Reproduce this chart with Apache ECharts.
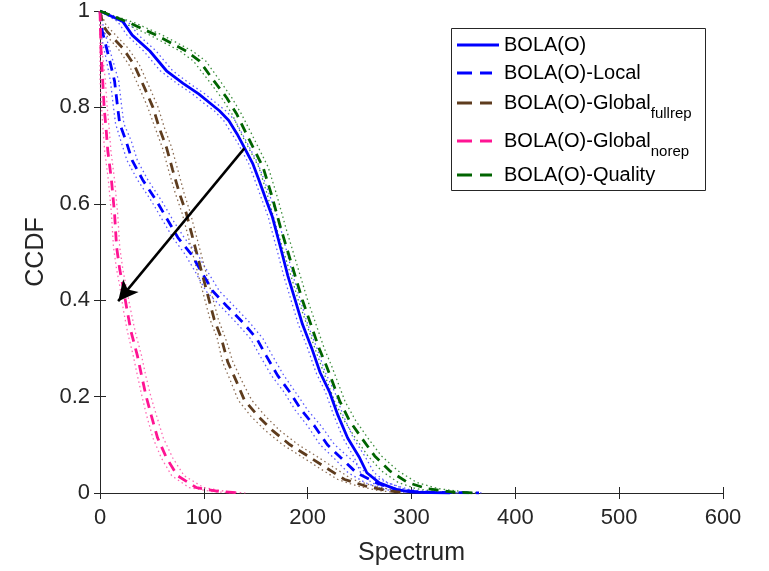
<!DOCTYPE html>
<html><head><meta charset="utf-8">
<script src="https://cdn.jsdelivr.net/npm/echarts@6/dist/echarts.min.js"></script>
<style>html,body{margin:0;padding:0;background:#fff}#c{width:769px;height:571px}</style>
</head><body><div id="c"></div>
<script>
// ---------- data ----------
const xMin = 0, xMax = 600, xStep = 100;
const yMin = 0, yMax = 1, yStep = 0.2;

const seriesNames = ['BOLA(O)', 'BOLA(O)-Local', 'BOLA(O)-Global_fullrep', 'BOLA(O)-Global_norep', 'BOLA(O)-Quality'];

// BOLA(O)
const bolaY  = [1, 0.978, 0.95, 0.917, 0.876, 0.85, 0.828, 0.807, 0.793, 0.773, 0.745, 0.725, 0.684, 0.65, 0.608, 0.573, 0.5, 0.45, 0.4, 0.35, 0.3, 0.25, 0.21, 0.162, 0.114, 0.073, 0.042, 0.021, 0.007, 0.002, 0];
const bolaX  = [0, 22, 31, 48, 64, 80, 95, 107, 115, 124, 132, 137, 147, 153, 160, 166, 175, 181, 188, 195, 204, 212, 221, 229, 238.5, 250, 257, 269, 286, 301, 337];
const bolaLo = [0, 17, 26, 42, 58, 74, 89, 101, 110, 119, 127, 133, 143, 149, 156, 162, 171, 177, 184, 191, 200, 208, 217, 225, 234, 245, 251, 262, 278, 292, 325];
const bolaHi = [0, 27, 37, 54, 70, 86, 101, 113, 121, 130, 137, 142, 152, 158, 165, 171, 180, 186, 193, 200, 209, 217, 226, 234, 244, 256, 264, 277, 295, 312, 345];

// BOLA(O)-Local
const localY  = [1, 0.96, 0.9, 0.855, 0.8, 0.766, 0.731, 0.69, 0.65, 0.604, 0.567, 0.53, 0.495, 0.458, 0.419, 0.388, 0.354, 0.32, 0.285, 0.244, 0.21, 0.172, 0.139, 0.1, 0.073, 0.042, 0.021, 0.007, 0.002, 0];
const localX  = [0, 2, 9, 14, 17, 19, 25, 31, 41, 55, 65, 75, 88, 98, 108.5, 122, 137.5, 151, 160, 171, 182.5, 194, 206.6, 219, 232, 247, 266, 286, 308, 365];
const localLo = [0, 0, 6, 10, 13, 15, 20, 26, 36, 50, 60, 70, 82, 92, 102, 116, 131, 145, 154, 165, 177, 188, 200, 212, 225, 239, 256, 274, 294, 345];
const localHi = [0, 4, 12, 18, 21, 23, 30, 36, 46, 60, 70, 81, 94, 104, 115, 129, 144, 157, 166, 177, 188, 200, 213, 226, 240, 256, 277, 298, 322, 370];

// BOLA(O)-Global fullrep
const fullY  = [1, 0.97, 0.957, 0.923, 0.888, 0.84, 0.8, 0.758, 0.717, 0.67, 0.622, 0.581, 0.54, 0.499, 0.458, 0.409, 0.36, 0.32, 0.272, 0.231, 0.193, 0.16, 0.13, 0.1, 0.077, 0.052, 0.028, 0.015, 0.005, 0];
const fullX  = [0, 3, 7, 22, 33, 43, 51, 57, 64, 70, 76.5, 83, 88, 93, 98, 104, 110, 117, 123, 131.5, 139, 152, 166, 183, 200, 218, 235.6, 255, 276, 296];
const fullLo = [0, 0, 3, 17, 28, 38, 46, 53, 60, 66, 72.5, 79, 84, 89, 94, 100, 106, 113, 118, 126, 133, 145, 159, 176, 193, 211, 229, 247, 268, 290];
const fullHi = [0, 6, 12, 27, 38, 48, 56, 62, 69, 75, 81, 87, 92, 97, 102, 108, 114, 121, 128, 137, 146, 159, 173, 191, 208, 226, 243, 263, 285, 300];

// BOLA(O)-Global norep
const noY  = [1, 0.917, 0.86, 0.8, 0.752, 0.71, 0.65, 0.58, 0.51, 0.464, 0.43, 0.38, 0.334, 0.285, 0.244, 0.2, 0.16, 0.114, 0.073, 0.036, 0.011, 0.003, 0];
const noX  = [0, 1, 2.5, 4, 6, 7.5, 11, 14, 16, 19, 22, 26, 30, 36, 40, 44.5, 49.5, 55.5, 64, 74.6, 93, 115, 137];
const noLo = [0, 0, 0, 1.5, 3, 4.5, 8, 11, 13, 16, 19, 22.5, 26.5, 32, 36, 40.5, 45, 51, 59, 69, 86, 108, 130];
const noHi = [0, 2, 5, 7, 9, 10.5, 14, 17, 19, 22, 25, 29.5, 34, 40, 44, 49, 54.5, 61, 70, 81, 100, 122, 140];

// BOLA(O)-Quality
const qualY  = [1, 0.976, 0.95, 0.917, 0.896, 0.86, 0.82, 0.787, 0.745, 0.676, 0.62, 0.55, 0.5, 0.45, 0.4, 0.35, 0.3, 0.264, 0.19, 0.151, 0.114, 0.077, 0.046, 0.022, 0.009, 0.002, 0];
const qualX  = [0, 28, 54, 83, 96, 108, 122, 131.5, 141, 157, 165, 174, 181, 188, 195, 203, 211, 218, 231, 240, 252, 264.5, 279, 296, 315, 340, 364];
const qualLo = [0, 22, 48, 77, 90, 103, 117, 127, 136, 153, 161, 170, 177, 184, 191, 199, 207, 213, 226, 235, 246, 258, 271, 287, 304, 328, 352];
const qualHi = [0, 33, 60, 89, 102, 114, 127, 136, 146, 162, 170, 179, 186, 193, 200, 208, 216, 223, 236, 246, 258, 271, 287, 305, 326, 352, 364];

// arrow annotation (data units)
const arrowFrom = [139, 0.715];
const arrowTo   = [17.5, 0.398];

// ---------- styling ----------
const FONT = '"Liberation Sans", Arial, Helvetica, sans-serif';
const AX = '#262626';
const mainColors  = ['#0000ff', '#0000ff', '#5e3c1e', '#ff1493', '#006400'];
const boundColors = ['#5a5aff', '#5a5aff', '#8c6e55', '#ff6ab4', '#3f8f3f'];
const mainTypes = ['solid', [10, 7], [10, 7], [10, 7], [10, 7]];

const zip = (xs, ys) => xs.map((x, i) => [x, ys[i]]);
const sets = [
  [bolaX, bolaLo, bolaHi, bolaY],
  [localX, localLo, localHi, localY],
  [fullX, fullLo, fullHi, fullY],
  [noX, noLo, noHi, noY],
  [qualX, qualLo, qualHi, qualY]
];

const series = [];
sets.forEach((s, i) => {
  [s[1], s[2]].forEach((b, j) => {
    series.push({
      name: '_bound' + i + '_' + j, type: 'line', data: zip(b, s[3]),
      symbol: 'none', showSymbol: false, silent: true, z: 1,
      lineStyle: { color: boundColors[i], width: 1.3, type: [1.5, 3] }
    });
  });
});
sets.forEach((s, i) => {
  const sr = {
    name: seriesNames[i], type: 'line', data: zip(s[0], s[3]),
    symbol: 'none', showSymbol: false, z: 3,
    itemStyle: { color: mainColors[i] },
    lineStyle: { color: mainColors[i], width: 2.8, type: mainTypes[i] }
  };
  if (i === 0) {
    sr.markLine = {
      silent: true, symbol: ['none', 'arrow'], symbolSize: [15, 20], animation: false,
      lineStyle: { color: '#000', width: 2.5, type: 'solid' },
      label: { show: false }, emphasis: { disabled: true },
      data: [[{ coord: arrowFrom }, { coord: arrowTo }]]
    };
  }
  series.push(sr);
});

// legend rows
const rowY = [45, 73, 103, 141, 175];
const solidIcon = 'path://M0,0H42V3H0Z';
const dashIcon = 'path://M0,0H15V3H0Z M23,0H35V3H23Z';
const legends = seriesNames.map((n, i) => {
  const rich = (i === 2 || i === 3);
  const textH = rich ? 37 : 24;
  return {
    data: [n], left: 457, top: rowY[i] - textH / 2, padding: 0,
    selectedMode: false,
    icon: i === 0 ? solidIcon : dashIcon,
    itemWidth: i === 0 ? 42 : 35, itemHeight: 3,
    formatter: name => {
      if (name === 'BOLA(O)-Global_fullrep') return '{a|BOLA(O)-Global}{s|fullrep}';
      if (name === 'BOLA(O)-Global_norep') return '{a|BOLA(O)-Global}{s|norep}';
      return name;
    },
    textStyle: {
      fontFamily: FONT, fontSize: 20, color: '#000', lineHeight: 24,
      padding: [0, 0, 0, i === 0 ? 0 : 7],
      rich: {
        a: { fontFamily: FONT, fontSize: 20, color: '#000', lineHeight: 37, verticalAlign: 'middle' },
        s: { fontFamily: FONT, fontSize: 15, color: '#000', lineHeight: 16, verticalAlign: 'bottom' }
      }
    }
  };
});

const axisCommon = {
  type: 'value', splitLine: { show: false },
  axisLine: { show: true, lineStyle: { color: AX, width: 1 } },
  axisTick: { show: true, inside: true, length: 6, lineStyle: { color: AX, width: 1 } }
};

const option = {
  animation: false,
  backgroundColor: '#fff',
  grid: { left: 100, top: 10, width: 623, height: 486, containLabel: false },
  xAxis: [
    Object.assign({}, axisCommon, {
      min: xMin, max: xMax, interval: xStep, position: 'bottom',
      name: 'Spectrum', nameLocation: 'middle', nameGap: 48,
      nameTextStyle: { fontFamily: FONT, fontSize: 25, color: AX },
      axisLabel: { fontFamily: FONT, fontSize: 22, color: AX, margin: 14 }
    }),
    Object.assign({}, axisCommon, {
      min: xMin, max: xMax, interval: xStep, position: 'top', axisLabel: { show: false }
    })
  ],
  yAxis: [
    Object.assign({}, axisCommon, {
      min: yMin, max: yMax, interval: yStep, position: 'left',
      name: 'CCDF', nameLocation: 'middle', nameGap: 45,
      nameTextStyle: { fontFamily: FONT, fontSize: 25, color: AX },
      axisLabel: { fontFamily: FONT, fontSize: 22, color: AX, margin: 10 }
    }),
    Object.assign({}, axisCommon, {
      min: yMin, max: yMax, interval: yStep, position: 'right', axisLabel: { show: false }
    })
  ],
  legend: legends,
  graphic: [{
    type: 'rect', z: 3, silent: true,
    shape: { x: 451.5, y: 28.5, width: 254, height: 162 },
    style: { fill: '#fff', stroke: AX, lineWidth: 1 }
  }],
  series: series
};

const chart = echarts.init(document.getElementById('c'), null, { renderer: 'canvas' });
chart.setOption(option);
</script></body></html>
